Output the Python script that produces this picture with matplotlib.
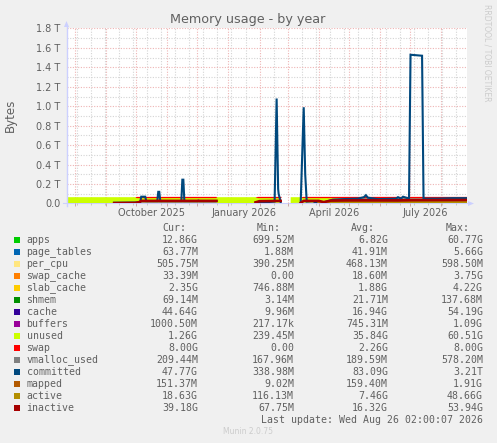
import datetime as dt
import numpy as np
import matplotlib
matplotlib.use("Agg")
import matplotlib.pyplot as plt
import matplotlib.dates as mdates
from matplotlib.lines import Line2D
from matplotlib.patches import Polygon, Rectangle

nan = float("nan")
W, H = 497, 443
BG = "#f0f0f0"
TXT = "#606060"

# legend table
names = ["apps", "page_tables", "per_cpu", "swap_cache", "slab_cache", "shmem", "cache", "buffers",
         "unused", "swap", "vmalloc_used", "committed", "mapped", "active", "inactive"]
colors = ["#00CC00", "#0066B3", "#FFE680", "#FF8000", "#FFCC00", "#008F00", "#330099", "#990099",
          "#CCFF00", "#FF0000", "#808080", "#00487D", "#B35A00", "#B38F00", "#A60000"]
cur = ["12.86G", "63.77M", "505.75M", "33.39M", "2.35G", "69.14M", "44.64G", "1000.50M",
       "1.26G", "8.00G", "209.44M", "47.77G", "151.37M", "18.63G", "39.18G"]
mins = ["699.52M", "1.88M", "390.25M", "0.00", "746.88M", "3.14M", "9.96M", "217.17k",
        "239.45M", "0.00", "167.96M", "338.98M", "9.02M", "116.13M", "67.75M"]
avg = ["6.82G", "41.91M", "468.13M", "18.60M", "1.88G", "21.71M", "16.94G", "745.31M",
       "35.84G", "2.26G", "189.59M", "83.09G", "159.40M", "7.46G", "16.32G"]
maxs = ["60.77G", "5.66G", "598.50M", "3.75G", "4.22G", "137.68M", "54.19G", "1.09G",
        "60.51G", "8.00G", "578.20M", "3.21T", "1.91G", "48.66G", "53.94G"]

# stacked areas, days since 2025-07-24, values in T
area_days = [0, 47, 48, 68, 69, 100, 149, 150, 188, 189, 213, 214, 222, 223, 233, 234, 251, 258, 263, 269, 278, 298, 333, 400]
apps = [.003, .003, .003, .003, .003, .003, .003, .003, .003, .003, .003, nan, nan, .003, .003, .003, .003, .003, .003, .003, .003, .003, .003, .003]
cache = [0, 0, .004, .004, .008, .008, .008, .001, .001, .005, .005, nan, nan, .002, .005, .005, .006, .015, .03, .045, .05, .05, .05, .05]
unused = [.062, .062, .058, .058, .046, .046, .046, .061, .061, .049, .049, nan, nan, .060, .057, .049, .048, .039, .024, .009, .004, .004, .004, .004]
swap = [0, 0, 0, 0, .008, .008, .008, 0, 0, .008, .008, nan, nan, 0, 0, .008, .008, .008, .008, .008, .008, .008, .008, .008]

# line series
committed_days = [47, 68, 73, 74, 78, 79, 90, 91, 92, 93, 114, 115, 116, 117, 130, 131, 132, 149, 150,
                  188, 207, 209, 210.5, 211, 213, 214,
                  222, 233, 236, 237.5, 239, 245, 248, 255, 265, 275, 290, 296, 298, 300, 310, 328, 330, 333, 335,
                  341, 342.5, 354, 355.5, 357, 370, 385, 400]
committed = [.008, .01, .012, .07, .07, .025, .025, .12, .12, .025, .025, .245, .245, .025, .025, .03, .025, .025, nan,
             .005, .02, 1.08, .15, .1, .015, nan,
             nan, .01, .99, .3, .02, .025, .01, .008, .04, .045, .05, .065, .085, .06, .045, .05, .065, .05, .07,
             .05, 1.53, 1.52, .02, .05, .05, .055, .055]
inactive_days = [47, 68, 72, 74, 149, 150, 188, 192, 213, 214, 222, 233, 236, 251, 256, 263, 278, 300, 330, 345, 400]
inactive = [.004, .006, .014, .027, .027, nan, .012, .024, .027, nan, nan, .006, .027, .027, .014, .03, .032, .032, .032, .034, .036]
active_days = [251, 263, 300, 330, 345, 375, 400]
active = [.006, .01, .012, .01, .012, .016, .016]

# ticks
month_starts = [dt.date(2025, 8, 1), dt.date(2025, 9, 1), dt.date(2025, 10, 1), dt.date(2025, 11, 1),
                dt.date(2025, 12, 1), dt.date(2026, 1, 1), dt.date(2026, 2, 1), dt.date(2026, 3, 1),
                dt.date(2026, 4, 1), dt.date(2026, 5, 1), dt.date(2026, 6, 1), dt.date(2026, 7, 1),
                dt.date(2026, 8, 1)]
quarter_labels = [(dt.date(2025, 10, 16), "October 2025"), (dt.date(2026, 1, 16), "January 2026"),
                  (dt.date(2026, 4, 16), "April 2026"), (dt.date(2026, 7, 16), "July 2026")]
y_major = [0, .2, .4, .6, .8, 1.0, 1.2, 1.4, 1.6, 1.8]
y_labels = ["0.0", "0.2 T", "0.4 T", "0.6 T", "0.8 T", "1.0 T", "1.2 T", "1.4 T", "1.6 T", "1.8 T"]

start = mdates.date2num(dt.date(2025, 7, 24))


def fx(px):
    return px / W


def fy(py):
    return 1 - py / H


fig = plt.figure(figsize=(W / 100, H / 100), dpi=100, facecolor=BG)
ax = fig.add_axes([fx(67), fy(203.5), 400 / W, 175 / H], facecolor="white")
ax.set_xlim(start, start + 400 / 1.003)
ax.set_ylim(0, 1.8)
for s in ax.spines.values():
    s.set_visible(False)
ax.set_axisbelow(True)

# grid
ax.set_yticks(y_major)
ax.set_yticklabels(y_labels, fontsize=7, color=TXT)
ax.set_yticks(np.arange(.1, 1.8, .2), minor=True)
ax.set_xticks([mdates.date2num(m) for m in month_starts])
ax.set_xticklabels([])
ax.set_xticks(np.arange(start + 10, start + 400, 14), minor=True)
ax.tick_params(axis="y", which="major", length=0, pad=4.5)
ax.tick_params(axis="y", which="minor", length=0)
ax.tick_params(axis="x", which="major", length=2.5, width=.7, color="#c8a8a8")
ax.tick_params(axis="x", which="minor", length=1.5, width=.6, color="#c0c0c0")
ax.grid(True, which="minor", color="#d4d4d4", lw=.8, ls=(0, (1, 1.4)))
ax.grid(True, which="major", color="#eeb4b4", lw=.8, ls=(0, (1, 1.4)))

# areas
x = start + np.array(area_days)
base = np.zeros(len(area_days))
for vals, name in [(apps, "apps"), (cache, "cache"), (unused, "unused"), (swap, "swap")]:
    vals = np.array(vals)
    col = colors[names.index(name)]
    ax.fill_between(x, base, base + vals, color=col, lw=0, zorder=3)
    base = base + vals

# red top edge for swap, the band is thinner than one pixel on its own
swap_top = np.where(np.array(swap) > 0, base, nan)
ax.plot(x, swap_top, color=colors[names.index("swap")], lw=.9, zorder=3, solid_capstyle="butt")

ax.plot(start + np.array(committed_days), committed, color=colors[names.index("committed")], lw=1.5, zorder=4,
        solid_joinstyle="miter")
ax.plot(start + np.array(active_days), active, color=colors[names.index("active")], lw=2, zorder=5)
ax.plot(start + np.array(inactive_days), inactive, color=colors[names.index("inactive")], lw=1.9, zorder=6)
ax.axhline(0, color="#e090a0", lw=.6, zorder=7)

for d, lab in quarter_labels:
    ax.annotate(lab, (mdates.date2num(d), 0), xytext=(0, -3), textcoords="offset points", ha="center", va="top",
                fontsize=7, color=TXT, annotation_clip=False)

# rrdtool style arrows on the axes
axis_col = "#ccd0ff"
fig.add_artist(Line2D([fx(66.5), fx(66.5)], [fy(206), fy(26)], color=axis_col, lw=1))
fig.add_artist(Line2D([fx(63), fx(470)], [fy(203.5), fy(203.5)], color=axis_col, lw=.8, zorder=0))
fig.add_artist(Polygon([[fx(64), fy(27)], [fx(69), fy(27)], [fx(66.5), fy(21)]], color=axis_col, lw=0))
fig.add_artist(Polygon([[fx(468), fy(201)], [fx(468), fy(206)], [fx(474), fy(203.5)]], color=axis_col, lw=0))

fig.text(fx(248), fy(19), "Memory usage - by year", ha="center", va="center", fontsize=9.2, color=TXT)
fig.text(fx(10), fy(115), "Bytes", rotation=90, ha="center", va="center", fontsize=8.6, color=TXT)
fig.text(fx(487), fy(53), "RRDTOOL / TOBI OETIKER", rotation=-90, ha="center", va="center", fontsize=5.5, color="#cccccc")
fig.text(fx(248), fy(432), "Munin 2.0.75", ha="center", va="center", fontsize=5.5, color="#cccccc")

# legend rows
mono = dict(family="DejaVu Sans Mono", fontsize=7.1, color=TXT, va="center")
for head, right in [("Cur:", 186), ("Min:", 281), ("Avg:", 375), ("Max:", 470)]:
    fig.text(fx(right), fy(228), head, ha="right", **mono)
for i, name in enumerate(names):
    y = 240 + 12 * i
    fig.add_artist(Rectangle((fx(14), fy(y + 3)), 6 / W, 6 / H, color=colors[i], lw=0))
    fig.text(fx(26.5), fy(y), name, ha="left", **mono)
    fig.text(fx(198), fy(y), cur[i], ha="right", **mono)
    fig.text(fx(294), fy(y), mins[i], ha="right", **mono)
    fig.text(fx(388), fy(y), avg[i], ha="right", **mono)
    fig.text(fx(483), fy(y), maxs[i], ha="right", **mono)
fig.text(fx(483), fy(420), "Last update: Wed Aug 26 02:00:07 2026", ha="right", **mono)

fig.savefig("out.png", dpi=100, facecolor=BG)
